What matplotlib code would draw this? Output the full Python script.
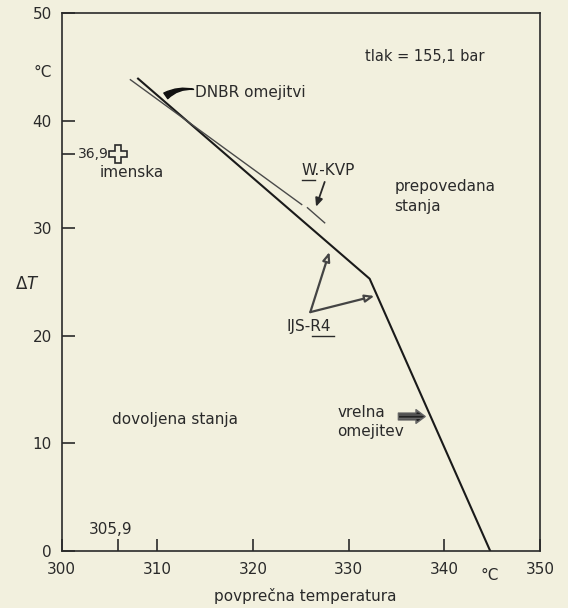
import matplotlib
matplotlib.use("Agg")
import matplotlib.pyplot as plt
import matplotlib.transforms as mtransforms

# data
main_x = [308.0, 332.2, 344.8]      # IJS-R4 limit (black), knee at ~332
main_y = [43.9, 25.3, 0.0]
wkvp_x = [307.2, 325.1]             # W.-KVP limit (thin grey)
wkvp_y = [43.8, 32.2]
wkvp_end_x = [325.7, 327.5]         # short broken piece at the end
wkvp_end_y = [31.9, 30.5]
nominal_x = 305.9                   # "imenska" operating point
nominal_y = 36.9

x_ticks = [300, 310, 320, 330, 340, 350]
y_ticks = [0, 10, 20, 30, 40, 50]

bg = "#f2f0de"
ink = "#2a2a2a"
plt.rcParams["font.family"] = ["DejaVu Sans"]
plt.rcParams["font.size"] = 11

fig = plt.figure(figsize=(5.68, 6.08), dpi=100, facecolor=bg)
ax = fig.add_axes([61.5 / 568, 1 - 551 / 608, 478.5 / 568, 538 / 608])
ax.set_facecolor(bg)

# the limit lines
ax.plot(main_x, main_y, color="#1a1a1a", linewidth=1.5)
ax.plot(wkvp_x, wkvp_y, color="#4a4a4a", linewidth=1.0)
ax.plot(wkvp_end_x, wkvp_end_y, color="#4a4a4a", linewidth=1.0)

# nominal point, hollow cross
ax.plot(nominal_x, nominal_y, marker="P", markersize=13, markerfacecolor=bg,
        markeredgecolor=ink, markeredgewidth=1.2, linestyle="none")

ax.set_xlim(300, 350)
ax.set_ylim(0, 50)
ax.set_xticks(x_ticks)
ax.set_yticks(y_ticks)
ax.set_xticks([nominal_x], minor=True)
ax.set_yticks([nominal_y], minor=True)
ax.tick_params(which="both", direction="in", length=9, width=1.2, colors=ink,
               labelcolor=ink, labelsize=11)
ax.tick_params(axis="x", pad=8)
ax.tick_params(axis="y", pad=7)
for s in ax.spines.values():
    s.set_linewidth(1.2)
    s.set_color(ink)

# units and axis names
yt = mtransforms.blended_transform_factory(ax.transAxes, ax.transData)
xt = mtransforms.blended_transform_factory(ax.transData, fig.transFigure)
ax.text(-0.02, 44.5, "°C", transform=yt, ha="right", va="center", color=ink)
ax.text(-0.045, 24.8, r"$\Delta T$", transform=yt, ha="right", va="center", color=ink, fontsize=12)
ax.text(344.7, 1 - 575 / 608, "°C", transform=xt, ha="center", va="center", color=ink)
ax.text(325.5, 1 - 596 / 608, "povprečna temperatura", transform=xt, ha="center", va="center", color=ink)

# nominal values
ax.text(301.7, 36.9, "36,9", ha="left", va="center", color=ink, fontsize=10)
ax.text(305.1, 2.0, "305,9", ha="center", va="center", color=ink)
ax.text(304.0, 35.2, "imenska", ha="left", va="center", color=ink)

# labels and arrows
ax.text(314.0, 42.6, "DNBR omejitvi", ha="left", va="center", color=ink)
ax.annotate("", xy=(313.8, 42.9), xytext=(310.9, 42.3),
            arrowprops=dict(arrowstyle="wedge,tail_width=0.45,shrink_factor=0.4",
                            fc="#111111", ec="#111111", shrinkA=0, shrinkB=0,
                            connectionstyle="arc3,rad=-0.2"))

ax.text(338.0, 46.0, "tlak = 155,1 bar", ha="center", va="center", color=ink, fontsize=10.5)

ax.text(325.1, 35.4, "W.-KVP", ha="left", va="center", color=ink)
ax.plot([325.1, 326.5], [34.5, 34.5], color=ink, linewidth=1.0)
ax.annotate("", xy=(326.6, 32.0), xytext=(327.5, 34.3),
            arrowprops=dict(arrowstyle="-|>,head_width=0.2,head_length=0.45",
                            color=ink, lw=1.3, shrinkA=0, shrinkB=0))

ax.text(334.8, 33.9, "prepovedana", ha="left", va="center", color=ink)
ax.text(334.8, 32.0, "stanja", ha="left", va="center", color=ink)

ax.text(323.5, 20.9, "IJS-R4", ha="left", va="center", color=ink)
ax.plot([326.2, 328.5], [20.0, 20.0], color=ink, linewidth=1.0)
for tip in [(328.0, 27.8), (332.7, 23.7)]:
    ax.annotate("", xy=tip, xytext=(326.0, 22.2),
                arrowprops=dict(arrowstyle="-|>,head_width=0.2,head_length=0.5",
                                fc=bg, ec="#444444", lw=1.6, shrinkA=0, shrinkB=0))

ax.text(305.3, 12.2, "dovoljena stanja", ha="left", va="center", color=ink)

ax.text(328.8, 12.9, "vrelna", ha="left", va="center", color=ink)
ax.text(328.8, 11.1, "omejitev", ha="left", va="center", color=ink)
ax.annotate("", xy=(338.0, 12.5), xytext=(335.2, 12.5),
            arrowprops=dict(arrowstyle="simple,head_width=0.9,head_length=0.6,tail_width=0.45",
                            fc="#222222", ec="#666666", hatch="-----", shrinkA=0, shrinkB=0))

fig.savefig("out.png", dpi=100, facecolor=bg)
